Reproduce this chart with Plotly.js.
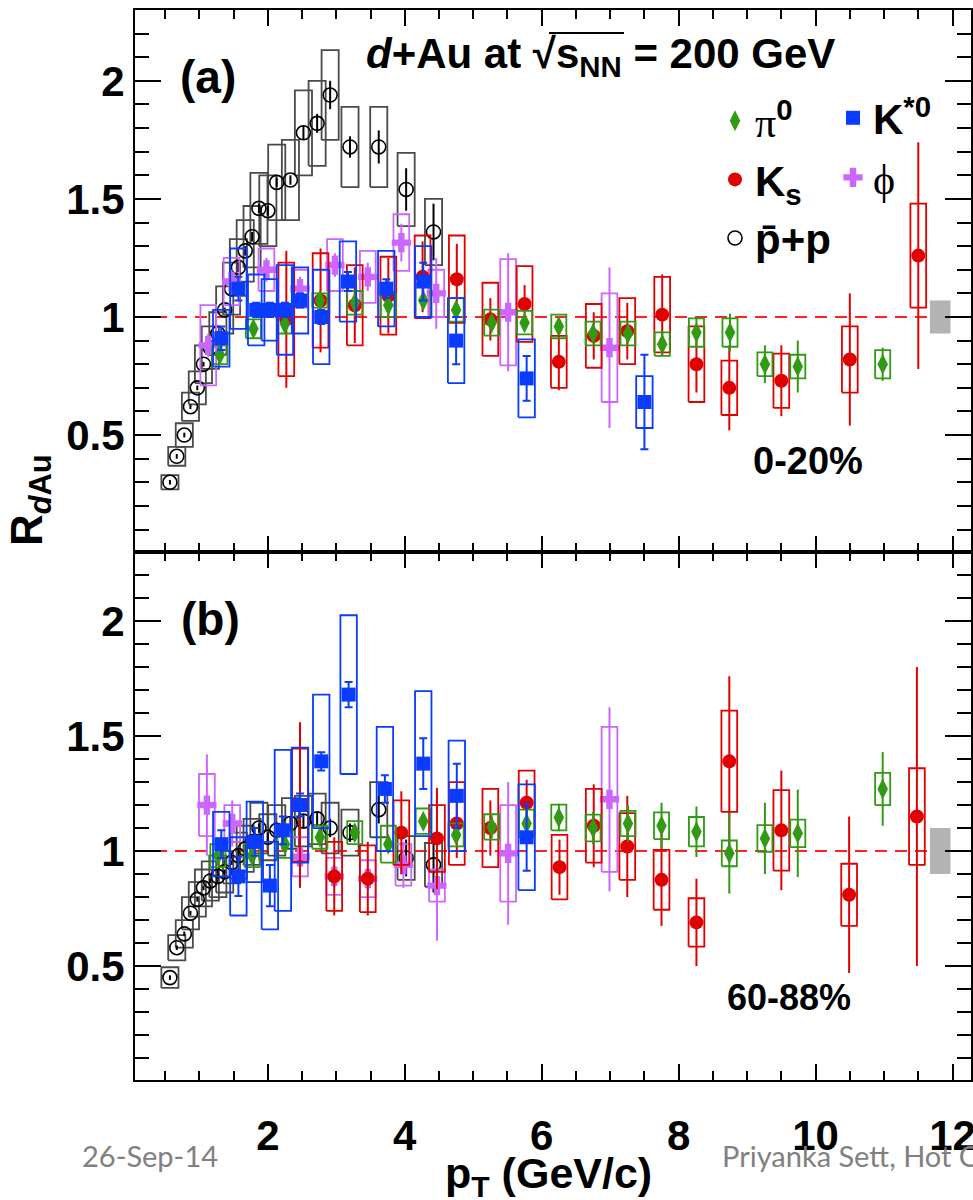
<!DOCTYPE html>
<html>
<head>
<meta charset="utf-8">
<script src="https://cdn.plot.ly/plotly-3.0.1.min.js"></script>
<style>html,body{margin:0;padding:0;background:#fff}</style>
</head>
<body>
<div id="chart" style="width:973px;height:1200px"></div>
<script>
// Nuclear modification factor R_dAu vs pT in d+Au at sqrt(s_NN) = 200 GeV.
// Panel (a): 0-20% centrality, panel (b): 60-88% centrality.
// Each species: pT (GeV/c), value, statistical error (bar), systematic error (box).

// ---- anti-proton + proton ----
const ppbar_pt   = [0.57, 0.67, 0.78, 0.87, 0.97, 1.06, 1.16, 1.27, 1.37, 1.47, 1.57, 1.67, 1.77, 1.87, 2.0, 2.13, 2.33, 2.52, 2.72, 2.91, 3.2, 3.62, 4.02, 4.42];
const ppbar_a    = [0.30, 0.41, 0.50, 0.62, 0.70, 0.80, 0.87, 0.93, 1.03, 1.12, 1.21, 1.28, 1.34, 1.46, 1.45, 1.57, 1.58, 1.78, 1.82, 1.94, 1.72, 1.72, 1.54, 1.36];
const ppbar_a_st = [0.01, 0.01, 0.01, 0.01, 0.01, 0.01, 0.01, 0.01, 0.01, 0.01, 0.02, 0.02, 0.02, 0.02, 0.02, 0.02, 0.02, 0.03, 0.04, 0.06, 0.045, 0.07, 0.09, 0.12];
const ppbar_a_sy = [0.03, 0.04, 0.05, 0.06, 0.07, 0.08, 0.09, 0.09, 0.10, 0.11, 0.12, 0.13, 0.13, 0.15, 0.15, 0.16, 0.17, 0.18, 0.18, 0.19, 0.17, 0.17, 0.155, 0.14];
const ppbar_b    = [0.45, 0.58, 0.64, 0.73, 0.79, 0.84, 0.87, 0.89, 0.91, 0.95, 0.98, 1.01, 1.04, 1.10, 1.06, 1.09, 1.12, 1.13, 1.14, 1.10, 1.08, 1.18, 0.97, 0.94];
const ppbar_b_st = [0.01, 0.01, 0.01, 0.01, 0.01, 0.01, 0.01, 0.01, 0.01, 0.01, 0.02, 0.02, 0.02, 0.02, 0.02, 0.02, 0.03, 0.03, 0.03, 0.04, 0.04, 0.06, 0.08, 0.12];
const ppbar_b_sy = [0.045, 0.055, 0.06, 0.07, 0.075, 0.08, 0.085, 0.09, 0.09, 0.09, 0.10, 0.10, 0.10, 0.11, 0.10, 0.11, 0.11, 0.11, 0.11, 0.11, 0.10, 0.12, 0.095, 0.095];

// ---- phi ----
const phi_pt_a   = [1.13, 1.47, 1.98, 2.47, 2.98, 3.46, 3.95, 4.46, 5.51, 6.99];
const phi_a      = [0.88, 1.15, 1.20, 1.12, 1.22, 1.17, 1.315, 1.10, 1.02, 0.87];
const phi_a_st   = [0.05, 0.05, 0.05, 0.05, 0.05, 0.06, 0.08, 0.15, 0.25, 0.34];
const phi_a_sy   = [0.17, 0.10, 0.09, 0.08, 0.11, 0.11, 0.12, 0.10, 0.225, 0.23];
const phi_pt_b   = [1.11, 1.48, 2.47, 2.97, 3.46, 3.98, 4.47, 5.51, 6.99];
const phi_b      = [1.20, 1.12, 0.975, 0.89, 0.88, 0.94, 0.85, 0.99, 1.225];
const phi_b_st   = [0.22, 0.10, 0.10, 0.05, 0.05, 0.10, 0.24, 0.31, 0.40];
const phi_b_sy   = [0.135, 0.08, 0.085, 0.08, 0.08, 0.09, 0.07, 0.21, 0.315];

// ---- K0s ----
const ks_pt_a    = [2.27, 2.77, 3.27, 3.76, 4.26, 4.76, 5.25, 5.75, 6.25, 6.76, 7.25, 7.76, 8.26, 8.74, 9.5, 10.5, 11.5];
const ks_a       = [0.99, 1.07, 1.05, 1.09, 1.17, 1.16, 0.99, 1.055, 0.81, 0.92, 0.94, 1.01, 0.80, 0.70, 0.73, 0.82, 1.26];
const ks_a_st    = [0.29, 0.22, 0.16, 0.16, 0.15, 0.15, 0.09, 0.08, 0.12, 0.10, 0.12, 0.17, 0.12, 0.18, 0.15, 0.28, 0.48];
const ks_a_sy    = [0.24, 0.20, 0.17, 0.165, 0.175, 0.185, 0.155, 0.16, 0.11, 0.135, 0.14, 0.16, 0.16, 0.115, 0.115, 0.14, 0.22];
const ks_pt_b    = [2.47, 2.97, 3.46, 3.95, 4.47, 4.76, 5.25, 5.78, 6.26, 6.76, 7.25, 7.75, 8.26, 8.74, 9.5, 10.49, 11.48];
const ks_b       = [1.20, 0.89, 0.88, 1.08, 1.055, 1.12, 1.10, 1.21, 0.93, 1.11, 1.02, 0.875, 0.69, 1.39, 1.09, 0.81, 1.15];
const ks_b_st    = [0.36, 0.17, 0.16, 0.18, 0.22, 0.15, 0.12, 0.10, 0.12, 0.18, 0.22, 0.20, 0.19, 0.37, 0.26, 0.34, 0.65];
const ks_b_sy    = [0.245, 0.15, 0.145, 0.14, 0.145, 0.18, 0.17, 0.14, 0.14, 0.16, 0.145, 0.13, 0.105, 0.22, 0.175, 0.135, 0.21];

// ---- pi0 ----
const pi0_pt_a   = [1.30, 1.79, 2.25, 2.76, 3.27, 3.76, 4.27, 4.75, 5.27, 5.75, 6.25, 6.75, 7.26, 7.76, 8.26, 8.75, 9.26, 9.74, 10.98];
const pi0_a      = [0.84, 0.95, 0.97, 1.07, 1.06, 1.05, 1.07, 1.03, 0.976, 0.976, 0.96, 0.93, 0.93, 0.885, 0.934, 0.934, 0.80, 0.79, 0.80];
const pi0_a_st   = [0.01, 0.01, 0.01, 0.01, 0.02, 0.02, 0.02, 0.02, 0.02, 0.03, 0.03, 0.04, 0.04, 0.05, 0.06, 0.08, 0.08, 0.11, 0.07];
const pi0_a_sy   = [0.04, 0.04, 0.04, 0.03, 0.05, 0.05, 0.07, 0.05, 0.055, 0.05, 0.05, 0.05, 0.05, 0.05, 0.06, 0.06, 0.05, 0.05, 0.06];
const pi0_pt_b   = [1.27, 1.77, 2.25, 2.76, 3.27, 3.76, 4.27, 4.75, 5.27, 5.78, 6.25, 6.75, 7.26, 7.75, 8.26, 8.74, 9.26, 9.74, 10.98];
const pi0_b      = [0.98, 0.98, 1.03, 1.06, 1.08, 1.03, 1.13, 1.07, 1.105, 1.12, 1.146, 1.10, 1.12, 1.11, 1.084, 0.99, 1.055, 1.077, 1.27];
const pi0_b_st   = [0.02, 0.02, 0.02, 0.02, 0.03, 0.03, 0.03, 0.04, 0.05, 0.06, 0.06, 0.07, 0.08, 0.10, 0.11, 0.175, 0.155, 0.19, 0.16];
const pi0_b_sy   = [0.05, 0.05, 0.06, 0.05, 0.05, 0.08, 0.055, 0.05, 0.055, 0.06, 0.056, 0.058, 0.055, 0.058, 0.064, 0.056, 0.058, 0.06, 0.07];

// ---- K*0 ----
const kst_pt_a   = [1.32, 1.57, 1.83, 2.03, 2.25, 2.47, 2.78, 3.17, 3.73, 4.27, 4.75, 5.78, 7.50];
const kst_a      = [0.91, 1.12, 1.03, 1.03, 1.03, 1.07, 1.00, 1.15, 1.12, 1.15, 0.90, 0.74, 0.64];
const kst_a_st   = [0.05, 0.05, 0.03, 0.03, 0.03, 0.03, 0.03, 0.04, 0.04, 0.08, 0.10, 0.095, 0.20];
const kst_a_sy   = [0.12, 0.17, 0.15, 0.13, 0.19, 0.14, 0.20, 0.17, 0.16, 0.15, 0.18, 0.165, 0.11];
const kst_pt_b   = [1.32, 1.57, 1.81, 2.03, 2.22, 2.47, 2.78, 3.18, 3.71, 4.27, 4.76, 5.78];
const kst_b      = [1.03, 0.89, 1.04, 0.85, 1.09, 1.20, 1.39, 1.68, 1.27, 1.38, 1.24, 1.06];
const kst_b_st   = [0.06, 0.085, 0.06, 0.09, 0.06, 0.05, 0.04, 0.055, 0.06, 0.11, 0.14, 0.145];
const kst_b_sy   = [0.14, 0.17, 0.175, 0.19, 0.35, 0.25, 0.29, 0.345, 0.27, 0.315, 0.24, 0.23];

// ---- global normalisation uncertainty (grey band at unity) ----
const norm_pt = [11.82];
const norm_a  = [0.07];
const norm_b  = [0.10];

// ---- styling ----
const SANS  = "'Liberation Sans', Arial, sans-serif";
const SERIF = "'Liberation Serif', 'Times New Roman', serif";
const FOOT  = "Lato, 'Liberation Sans', sans-serif";
const GREEN = '#2f9a12', RED = '#e00000', BLUE = '#0a3cff', VIOLET = '#cc66ff', GREY = '#4a4a4a';
const SPLIT = 0.4935;   // boundary between the two panels (paper fraction)

const traces = [];

// systematic boxes + markers with statistical bars for one species in one panel
function addSeries(o) {
  const bx = [], by = [];
  o.x.forEach((x, i) => {
    const lo = o.y[i] - o.sys[i], hi = o.y[i] + o.sys[i];
    bx.push(x - o.half, x + o.half, x + o.half, x - o.half, x - o.half, null);
    by.push(lo, lo, hi, hi, lo, null);
  });
  traces.push({
    type: 'scatter', mode: 'lines', x: bx, y: by, xaxis: o.xa, yaxis: o.ya,
    line: {color: o.boxColor || o.color, width: 1.8}, showlegend: false, hoverinfo: 'skip'
  });
  traces.push({
    type: 'scatter', mode: 'markers', x: o.x, y: o.y, xaxis: o.xa, yaxis: o.ya,
    name: o.name, legend: o.legend, legendrank: o.rank, legendgroup: o.group, showlegend: !!o.showlegend,
    marker: {symbol: o.symbol, size: o.size, color: o.color, line: {width: o.lw || 0, color: o.color}},
    error_y: {type: 'data', array: o.stat, visible: true, color: o.color, thickness: 2, width: o.cap || 0}
  });
}

function addNorm(xa, ya, half) {
  const bx = [], by = [];
  norm_pt.forEach((x, i) => {
    bx.push(x - 0.15, x + 0.15, x + 0.15, x - 0.15, x - 0.15, null);
    by.push(1 - half[i], 1 - half[i], 1 + half[i], 1 + half[i], 1 - half[i], null);
  });
  traces.push({type: 'scatter', mode: 'lines', x: bx, y: by, xaxis: xa, yaxis: ya,
    fill: 'toself', fillcolor: '#b3b3b3', line: {width: 0, color: '#b3b3b3'},
    showlegend: false, hoverinfo: 'skip'});
}

const legendNames = {
  pi0: '<span style="font-family:\'Liberation Serif\';font-weight:normal">π</span><sup>0</sup>',
  ks: 'K<sub>s</sub>',
  pp: 'p\u0304+p',
  kst: 'K<sup>*0</sup>',
  phi: '<span style="font-family:\'Liberation Serif\';font-weight:normal">ϕ</span>'
};

function panel(xa, ya, d, withLegend) {
  addSeries({xa, ya, x: ppbar_pt, y: d.pp, stat: d.ppSt, sys: d.ppSy, half: 0.125, color: '#000', boxColor: GREY,
    symbol: 'circle-open', size: 14, lw: 1.6, name: legendNames.pp, legend: 'legend', rank: 3, group: 'pp', showlegend: withLegend});
  addSeries({xa, ya, x: d.phiPt, y: d.phi, stat: d.phiSt, sys: d.phiSy, half: 0.115, color: VIOLET,
    symbol: 'cross', size: 16, name: legendNames.phi, legend: 'legend2', rank: 2, group: 'phi', showlegend: withLegend});
  addSeries({xa, ya, x: d.ksPt, y: d.ks, stat: d.ksSt, sys: d.ksSy, half: 0.115, color: RED,
    symbol: 'circle', size: 14, name: legendNames.ks, legend: 'legend', rank: 2, group: 'ks', showlegend: withLegend});
  addSeries({xa, ya, x: d.pi0Pt, y: d.pi0, stat: d.pi0St, sys: d.pi0Sy, half: 0.11, color: GREEN,
    symbol: 'diamond-tall', size: 15, name: legendNames.pi0, legend: 'legend', rank: 1, group: 'pi0', showlegend: withLegend});
  addSeries({xa, ya, x: d.kstPt, y: d.kst, stat: d.kstSt, sys: d.kstSy, half: 0.12, color: BLUE,
    symbol: 'square', size: 14, cap: 4, name: legendNames.kst, legend: 'legend2', rank: 1, group: 'kst', showlegend: withLegend});
}

// panel (a), top
panel('x2', 'y2', {
  pp: ppbar_a, ppSt: ppbar_a_st, ppSy: ppbar_a_sy,
  phiPt: phi_pt_a, phi: phi_a, phiSt: phi_a_st, phiSy: phi_a_sy,
  ksPt: ks_pt_a, ks: ks_a, ksSt: ks_a_st, ksSy: ks_a_sy,
  pi0Pt: pi0_pt_a, pi0: pi0_a, pi0St: pi0_a_st, pi0Sy: pi0_a_sy,
  kstPt: kst_pt_a, kst: kst_a, kstSt: kst_a_st, kstSy: kst_a_sy
}, true);
addNorm('x2', 'y2', norm_a);

// panel (b), bottom
panel('x', 'y', {
  pp: ppbar_b, ppSt: ppbar_b_st, ppSy: ppbar_b_sy,
  phiPt: phi_pt_b, phi: phi_b, phiSt: phi_b_st, phiSy: phi_b_sy,
  ksPt: ks_pt_b, ks: ks_b, ksSt: ks_b_st, ksSy: ks_b_sy,
  pi0Pt: pi0_pt_b, pi0: pi0_b, pi0St: pi0_b_st, pi0Sy: pi0_b_sy,
  kstPt: kst_pt_b, kst: kst_b, kstSt: kst_b_st, kstSy: kst_b_sy
}, false);
addNorm('x', 'y', norm_b);

const tickFont = {family: SANS, size: 42, color: '#000', weight: 'bold'};
const xCommon = {
  range: [0.06, 12.27], tickmode: 'linear', tick0: 0, dtick: 2,
  ticks: 'inside', ticklen: 16, tickwidth: 2, tickcolor: '#000',
  showline: true, linewidth: 2, linecolor: '#000', mirror: 'ticks',
  showgrid: false, zeroline: false, tickfont: tickFont, ticklabeloverflow: 'allow',
  minor: {tickmode: 'linear', tick0: 0, dtick: 0.5, ticks: 'inside', ticklen: 9, tickwidth: 2, tickcolor: '#000', showgrid: false}
};
const yCommon = {
  range: [0.005, 2.3], tickmode: 'linear', tick0: 0, dtick: 0.5,
  ticks: 'inside', ticklen: 26, tickwidth: 2, tickcolor: '#000',
  showline: true, linewidth: 2, linecolor: '#000', mirror: 'ticks',
  showgrid: false, zeroline: false, tickfont: tickFont,
  minor: {tickmode: 'linear', tick0: 0, dtick: 0.1, ticks: 'inside', ticklen: 14, tickwidth: 2, tickcolor: '#000', showgrid: false}
};

const px2x = px => (px - 135) / 836;      // figure pixel -> paper x
const py2y = py => (1080 - py) / 1070;    // figure pixel -> paper y

const unityLine = (xa, ya) => ({type: 'line', xref: xa + ' domain', x0: 0, x1: 1, yref: ya, y0: 1, y1: 1,
  line: {color: '#ff2020', width: 2, dash: '12px,8px'}, layer: 'below'});

function label(text, px, py, font, extra) {
  return Object.assign({text, xref: 'paper', yref: 'paper', x: px2x(px), y: py2y(py),
    xanchor: 'center', yanchor: 'middle', showarrow: false, font}, extra || {});
}

const legendFont = {family: SANS, size: 42, color: '#000', weight: 'bold'};

const layout = {
  width: 973, height: 1200,
  margin: {l: 135, r: 2, t: 10, b: 120},
  paper_bgcolor: '#fff', plot_bgcolor: '#fff',
  showlegend: true,
  xaxis: Object.assign({}, xCommon, {anchor: 'y', domain: [0, 1], ticklabelstandoff: 18}),
  xaxis2: Object.assign({}, xCommon, {anchor: 'y2', domain: [0, 1], matches: 'x', showticklabels: false}),
  yaxis: Object.assign({}, yCommon, {domain: [0, SPLIT], anchor: 'x'}),
  yaxis2: Object.assign({}, yCommon, {domain: [SPLIT, 1], anchor: 'x2'}),
  legend: {x: px2x(715), y: py2y(87), xanchor: 'left', yanchor: 'top', bgcolor: 'rgba(0,0,0,0)',
    font: legendFont, traceorder: 'grouped', itemwidth: 30, tracegroupgap: 1},
  legend2: {x: px2x(833), y: py2y(84), xanchor: 'left', yanchor: 'top', bgcolor: 'rgba(0,0,0,0)',
    font: legendFont, traceorder: 'grouped', itemwidth: 30, tracegroupgap: 2},
  shapes: [
    unityLine('x2', 'y2'),
    unityLine('x', 'y'),
    // bar of the square root in the collision label
    {type: 'line', xref: 'paper', yref: 'paper', x0: px2x(549), x1: px2x(624), y0: py2y(33), y1: py2y(33),
      line: {color: '#000', width: 2}}
  ],
  annotations: [
    label('<i>d</i>+Au at √s<sub>NN</sub> = 200 GeV', 600, 57, {family: SANS, size: 42, color: '#000', weight: 'bold'}),
    label('(a)', 208, 77, {family: SANS, size: 46, color: '#000', weight: 'bold'}),
    label('(b)', 210, 619, {family: SANS, size: 46, color: '#000', weight: 'bold'}),
    label('0-20%', 808, 461, {family: SANS, size: 38, color: '#000', weight: 'bold'}),
    label('60-88%', 789, 997, {family: SANS, size: 36, color: '#000', weight: 'bold'}),
    label('R<sub><i>d</i>Au</sub>', 30, 500, {family: SANS, size: 44, color: '#000', weight: 'bold'}, {textangle: -90}),
    label('p<sub>T</sub> (GeV/c)', 548, 1176, {family: SANS, size: 43, color: '#000', weight: 'bold'}),
    label('26-Sep-14', 150, 1155, {family: FOOT, size: 29, color: '#808080'}),
    label('Priyanka Sett, Hot C', 720, 1155, {family: FOOT, size: 29, color: '#808080'}, {xanchor: 'left'})
  ]
};

Plotly.newPlot('chart', traces, layout, {staticPlot: true, displayModeBar: false});
</script>
</body>
</html>
